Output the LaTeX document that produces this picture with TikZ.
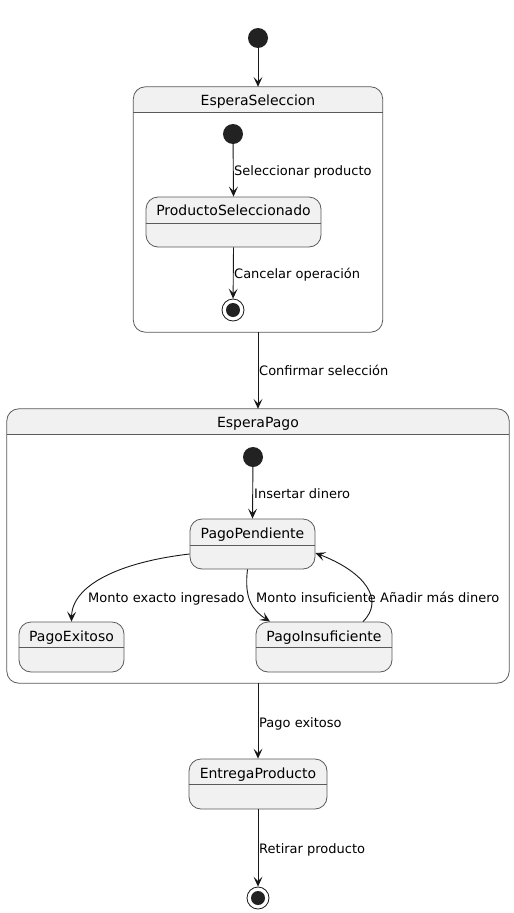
\documentclass[tikz,border=0pt]{standalone}
\usepackage{fontspec}
\setmainfont{DejaVu Sans}
\usetikzlibrary{arrows.meta}
\definecolor{stfill}{HTML}{F1F1F1}
\definecolor{stline}{HTML}{181818}
\definecolor{bline}{HTML}{5A5A5A}
\definecolor{dotc}{HTML}{222222}
\tikzset{
 statebox/.style={draw=bline, fill=stfill, rounded corners=12pt, line width=0.8pt, inner sep=0pt},
 compbox/.style={fill=white, rounded corners=12pt, inner sep=0pt},
 boxline/.style={draw=bline, line width=0.8pt, rounded corners=12pt},
 titletxt/.style={font=\fontsize{14}{16}\selectfont, inner sep=0pt, anchor=base, text=black},
 lbl/.style={font=\fontsize{13}{15}\selectfont, inner sep=0pt, anchor=base west, text=black},
 initst/.style={circle, fill=dotc, minimum size=20pt, inner sep=0pt},
 finalst/.style={circle, draw=stline, line width=0.8pt, fill=white, minimum size=22pt, inner sep=0pt,
   path picture={\fill[dotc] (path picture bounding box.center) circle (7pt);}},
 conn/.style={draw=stline, line width=0.9pt, -{Stealth[length=10pt,width=9pt,inset=4.5pt]}},
 hline/.style={draw=bline, line width=0.8pt},
}
\begin{document}
\begin{tikzpicture}[x=1pt,y=-1pt]
\useasboundingbox[fill=white] (0,0) rectangle (514,913);

% top initial
\node[initst] (i0) at (258,38) {};

% EsperaSeleccion composite
\node[compbox, minimum width=249pt, minimum height=245pt] (es) at (258,209.5) {};
\fill[stfill] ([yshift=-26pt]es.north west) [rounded corners=12pt] -- (es.north west) -- (es.north east) [sharp corners] -- ([yshift=-26pt]es.north east) -- cycle;
\draw[boxline] (es.south west) rectangle (es.north east);
\draw[hline] ([yshift=-26pt]es.north west) -- ([yshift=-26pt]es.north east);
\node[titletxt] (est) at (258,105) {EsperaSeleccion};

\node[initst] (i1) at (233,134) {};
\node[statebox, minimum width=175pt, minimum height=50pt] (ps) at (233.5,222) {};
\draw[hline] ([yshift=-27pt]ps.north west) -- ([yshift=-27pt]ps.north east);
\node[titletxt] (pst) at (233.5,215) {ProductoSeleccionado};
\node[finalst] (f1) at (233,310) {};

% EsperaPago composite
\node[compbox, minimum width=502pt, minimum height=274pt] (ep) at (258,546) {};
\fill[stfill] ([yshift=-26pt]ep.north west) [rounded corners=12pt] -- (ep.north west) -- (ep.north east) [sharp corners] -- ([yshift=-26pt]ep.north east) -- cycle;
\draw[boxline] (ep.south west) rectangle (ep.north east);
\draw[hline] ([yshift=-26pt]ep.north west) -- ([yshift=-26pt]ep.north east);
\node[titletxt] (ept) at (258,427) {EsperaPago};

\node[initst] (i2) at (253,457) {};
\node[statebox, minimum width=125pt, minimum height=50pt] (pp) at (252.5,544) {};
\draw[hline] ([yshift=-27pt]pp.north west) -- ([yshift=-27pt]pp.north east);
\node[titletxt] (ppt) at (252.5,538) {PagoPendiente};

\node[statebox, minimum width=105pt, minimum height=50pt] (pe) at (71.5,647) {};
\draw[hline] ([yshift=-26pt]pe.north west) -- ([yshift=-26pt]pe.north east);
\node[titletxt] (pet) at (71.5,641) {PagoExitoso};

\node[statebox, minimum width=136pt, minimum height=50pt] (pi) at (324,647) {};
\draw[hline] ([yshift=-26pt]pi.north west) -- ([yshift=-26pt]pi.north east);
\node[titletxt] (pit) at (324,641) {PagoInsuficiente};

% EntregaProducto
\node[statebox, minimum width=138pt, minimum height=50pt] (en) at (258,784) {};
\draw[hline] ([yshift=-26pt]en.north west) -- ([yshift=-26pt]en.north east);
\node[titletxt] (ent) at (258,778) {EntregaProducto};

\node[finalst] (f2) at (258,898) {};

% connectors
\draw[conn] (i0) -- (es.north);
\draw[conn] (i1) -- (ps.north);
\draw[conn] (ps.south) -- (f1);
\draw[conn] (es.south) -- (ep.north);
\draw[conn] (i2) -- (pp.north);
\draw[conn] ([yshift=-10pt]pp.west) .. controls (120,562) and (72,585) .. (pe.north);
\draw[conn] ([xshift=-5pt]pp.south) .. controls (244,598) and (252,610) .. ([xshift=-54pt]pi.north);
\draw[conn] ([xshift=39pt]pi.north) .. controls (385,600) and (365,572) .. ([yshift=-9pt]pp.east);
\draw[conn] (ep.south) -- (en.north);
\draw[conn] (en.south) -- (f2);

% labels
\node[lbl] (l1) at (234,175) {Seleccionar producto};
\node[lbl] (l2) at (234,278) {Cancelar operación};
\node[lbl] (l3) at (259,375) {Confirmar selección};
\node[lbl] (l4) at (254,498) {Insertar dinero};
\node[lbl] (l5) at (88,602) {Monto exacto ingresado};
\node[lbl] (l6) at (256,602) {Monto insuficiente};
\node[lbl] (l7) at (380,602) {Añadir más dinero};
\node[lbl] (l8) at (259,727) {Pago exitoso};
\node[lbl] (l9) at (259,853) {Retirar producto};
\end{tikzpicture}
\end{document}
